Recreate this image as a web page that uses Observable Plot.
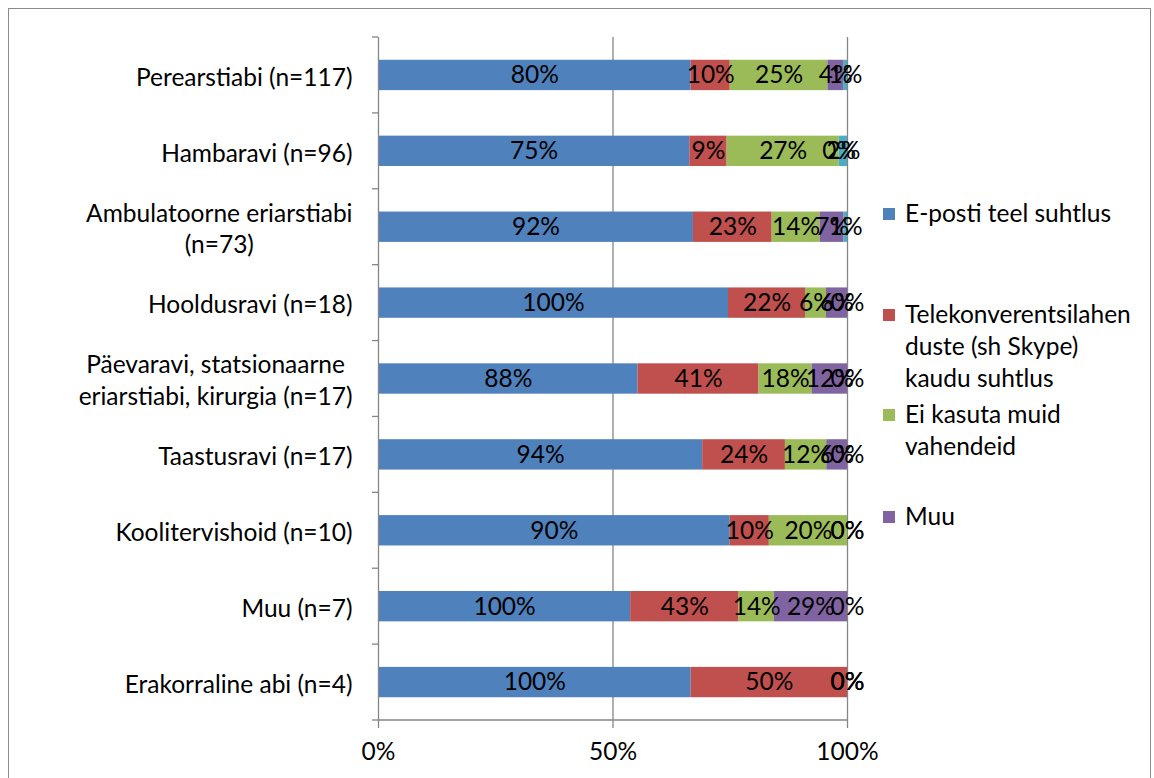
<!DOCTYPE html>
<html><head><meta charset="utf-8">
<script src="https://cdn.jsdelivr.net/npm/d3@7"></script>
<script src="https://cdn.jsdelivr.net/npm/@observablehq/plot@0.6"></script>
<style>
body{margin:0;background:#fff;font-family:Lato, sans-serif;}
#wrap{position:relative;width:1154px;height:778px;overflow:hidden;}
#frame{position:absolute;left:8px;top:8px;width:1141px;height:800px;border:1px solid #8c8c8c;}
#chart{position:absolute;left:0;top:0;}
#legend{position:absolute;left:883px;top:0;}
.item{position:absolute;left:0;display:flex;align-items:flex-start;font-size:24.5px;line-height:32px;white-space:pre;color:#000;}
.sw{width:12px;height:12px;margin-top:11px;margin-right:10px;flex:none;}
</style></head><body>
<div id="wrap"><div id="frame"></div><div id="chart"></div><div id="legend"></div></div>
<script>
const categories = ["Perearstiabi (n=117)","Hambaravi (n=96)","Ambulatoorne eriarstiabi (n=73)","Hooldusravi (n=18)","Päevaravi, statsionaarne eriarstiabi, kirurgia (n=17)","Taastusravi (n=17)","Koolitervishoid (n=10)","Muu (n=7)","Erakorraline abi (n=4)"];
const categoryLabels = ["Perearstiabi (n=117)","Hambaravi (n=96)","Ambulatoorne eriarstiabi\n(n=73)","Hooldusravi (n=18)","Päevaravi, statsionaarne\neriarstiabi, kirurgia (n=17)","Taastusravi (n=17)","Koolitervishoid (n=10)","Muu (n=7)","Erakorraline abi (n=4)"];
const seriesNames = ["E-posti teel suhtlus","Telekonverentsilahenduste (sh Skype) kaudu suhtlus","Ei kasuta muid vahendeid","Muu","Muu 2"];
const emailValues = [80,75,92,100,88,94,90,100,100];
const teleValues = [10,9,23,22,41,24,10,43,50];
const noneValues = [25,27,14,6,18,12,20,14,0];
const otherValues = [4,0,7,6,12,6,0,29,0];
const fifthValues = [1,2,1,0,0,0,0,0,0];
const colors = ["#4F81BD","#C0504D","#9BBB59","#8064A2","#4BACC6"];
const xTicks = [0, 0.5, 1];
const legendLabels = ["E-posti teel suhtlus","Telekonverentsilahen\nduste (sh Skype)\nkaudu suhtlus","Ei kasuta muid\nvahendeid","Muu"];
const legendTops = [197, 298, 398, 500];

const seriesValues = [emailValues, teleValues, noneValues, otherValues, fifthValues];
const rows = [];
categories.forEach((c, i) => {
  seriesNames.forEach((s, j) => rows.push({cat: c, series: s, value: seriesValues[j][i]}));
});
const labelOf = new Map(categories.map((c, i) => [c, categoryLabels[i]]));
const axisColor = "#868686";
const fs = 24.5;

const plot = Plot.plot({
  width: 1154, height: 778,
  marginLeft: 378, marginRight: 307, marginTop: 37, marginBottom: 58,
  style: {fontFamily: "Lato, sans-serif", fontSize: fs + "px", color: "#000", background: "transparent"},
  x: {domain: [0, 1], axis: null, label: null},
  y: {domain: categories, paddingInner: 0.6, paddingOuter: 0.3, round: false, axis: null, label: null},
  color: {domain: seriesNames, range: colors},
  marks: [
    Plot.ruleX(xTicks.filter(d => d > 0), {stroke: axisColor, strokeWidth: 1.3}),
    Plot.barX(rows, Plot.stackX({x: "value", y: "cat", fill: "series", offset: "normalize", order: null})),
    Plot.text(rows, Plot.stackX({x: "value", y: "cat", z: "series", offset: "normalize", order: null,
      text: d => d.value + "%", fill: "#000", fontSize: fs})),
    Plot.ruleX([0], {stroke: axisColor, strokeWidth: 1.3}),
    Plot.axisX({ticks: xTicks, tickFormat: d3.format(".0%"), tickSize: 8, tickPadding: 14, label: null,
      stroke: axisColor, strokeWidth: 1.3, fontSize: fs, fill: "#000"}),
    Plot.axisY({tickFormat: d => labelOf.get(d), tickSize: 0, tickPadding: 26, fontSize: fs, label: null,
      lineHeight: 1.3, fill: "#000"})
  ]
});
document.getElementById("chart").appendChild(plot);

// category boundary ticks and bottom axis line, from the y scale
const ys = plot.scale("y"), xs = plot.scale("x");
const svg = d3.select(plot);
const step = ys.step, bw = ys.bandwidth;
const bounds = categories.map(c => ys.apply(c) - (step - bw) / 2);
bounds.push(bounds[bounds.length - 1] + step);
const x0 = xs.apply(0), x1 = xs.apply(1);
const g = svg.append("g").attr("stroke", axisColor).attr("stroke-width", 1.3);
g.selectAll("line.t").data(bounds).join("line")
  .attr("x1", x0 - 6).attr("x2", x0).attr("y1", d => d).attr("y2", d => d);
g.append("line").attr("x1", x0).attr("x2", x1)
  .attr("y1", bounds[bounds.length - 1]).attr("y2", bounds[bounds.length - 1]);

// center multi-line category labels within their block
svg.selectAll('g[aria-label="y-axis tick label"] text').each(function() {
  const tspans = this.querySelectorAll("tspan");
  if (tspans.length > 1) {
    const w = Math.max(...Array.from(tspans, t => t.getComputedTextLength()));
    this.setAttribute("text-anchor", "middle");
    tspans.forEach(t => t.setAttribute("x", (+t.getAttribute("x") || 0) - w / 2));
  }
});

// legend (first four series)
const legend = d3.select("#legend");
legendLabels.forEach((l, i) => {
  const it = legend.append("div").attr("class", "item").style("top", legendTops[i] + "px");
  it.append("div").attr("class", "sw").style("background", colors[i]);
  it.append("div").text(l);
});
</script>
</body></html>
